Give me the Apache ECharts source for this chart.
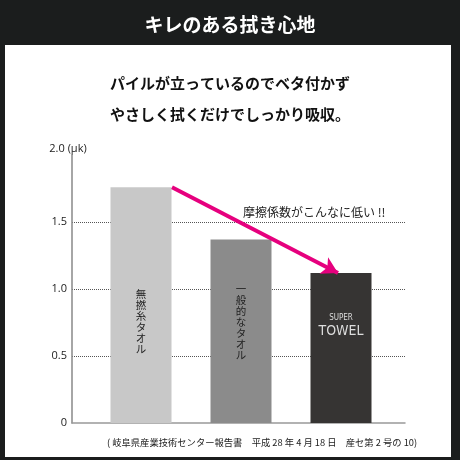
<!DOCTYPE html>
<html><head><meta charset="utf-8">
<script src="https://cdn.jsdelivr.net/npm/echarts@6/dist/echarts.min.js"></script>
<style>html,body{margin:0;padding:0;background:#1b1d1d}#c{width:460px;height:460px}</style>
</head><body><div id="c"></div>
<script>
const titleText = 'キレのある拭き心地';
const subtitleLines = ['パイルが立っているのでベタ付かず', 'やさしく拭くだけでしっかり吸収。'];
const categories = ['無撚糸タオル', '一般的なタオル', 'SUPER TOWEL'];
const values = [1.76, 1.37, 1.12];
const barColors = ['#c8c8c8', '#8b8b8b', '#363433'];
const yTicks = [0, 0.5, 1.0, 1.5, 2.0];
const yUnit = '2.0 (μk)';
const note = '摩擦係数がこんなに低い !!';
const source = '( 岐阜県産業技術センター報告書　平成 28 年 4 月 18 日　産セ第 2 号の 10)';

const JP = '"Noto Sans CJK JP", "Noto Sans", sans-serif';
const chart = echarts.init(document.getElementById('c'));
const labelDist = [68, 62, 84];
chart.setOption({
  backgroundColor: '#1b1d1d',
  animation: false,
  title: [
    { text: titleText, left: 'center', top: 10, textStyle: { color: '#fff', fontSize: 19, fontWeight: 'bold', fontFamily: JP } },
    { text: subtitleLines.join('\n'), left: 'center', top: 63, textStyle: { color: '#111', fontSize: 15, fontWeight: 'bold', fontFamily: JP, lineHeight: 31 } }
  ],
  graphic: [
    { type: 'rect', shape: { x: 5, y: 45, width: 446, height: 412 }, style: { fill: '#fff' }, z: -10, silent: true },
    { type: 'text', left: 243, top: 206, style: { text: note, fill: '#222', font: '12px ' + JP } },
    { type: 'text', left: 107, top: 438, style: { text: source, fill: '#222', font: '9.3px ' + JP } }
  ],
  grid: { left: 72, right: 55, top: 155, bottom: 37 },
  xAxis: {
    type: 'value', min: 0.31, max: 3.64,
    axisLine: { show: true, onZero: false, lineStyle: { color: '#999', width: 1.5 } },
    axisTick: { show: false }, axisLabel: { show: false }, splitLine: { show: false }
  },
  yAxis: {
    type: 'value', min: 0, max: 2.0, interval: 0.5,
    name: yUnit, nameLocation: 'end', nameGap: 1,
    nameTextStyle: { color: '#222', fontSize: 11, fontFamily: '"Open Sans", sans-serif', align: 'center', padding: [0, 8, 0, 0] },
    axisLine: { show: true, onZero: false, lineStyle: { color: '#888', width: 1.5 } },
    axisTick: { show: false },
    axisLabel: { color: '#222', fontSize: 11, margin: 5, fontFamily: '"Open Sans", sans-serif',
      formatter: v => v === 0 ? '0' : (v >= 2 ? '' : v.toFixed(1)) },
    splitLine: { show: true, showMinLine: false, showMaxLine: false, lineStyle: { type: 'dotted', color: '#555', width: 1 } }
  },
  series: [{
    type: 'bar', barWidth: 61,
    data: values.map((v, i) => ({
      value: [i + 1, v],
      itemStyle: { color: barColors[i] },
      label: i < 2 ? {
        show: true, position: 'insideBottom', distance: labelDist[i],
        formatter: categories[i].split('').join('\n'),
        color: '#222', fontSize: 10.5, lineHeight: 11, fontFamily: JP
      } : {
        show: true, position: 'insideBottom', distance: labelDist[i],
        formatter: '{a|SUPER}\n{b|TOWEL}',
        rich: {
          a: { color: '#ddd', fontSize: 8, lineHeight: 11, fontFamily: '"DejaVu Sans Condensed", sans-serif' },
          b: { color: '#ddd', fontSize: 14, lineHeight: 16, fontFamily: '"DejaVu Sans Condensed", sans-serif' }
        }
      }
    })),
    markLine: {
      silent: true, symbol: ['none', 'arrow'], symbolSize: [14, 16],
      label: { show: false },
      lineStyle: { color: '#e6007e', width: 4, type: 'solid' },
      data: [[{ coord: [1.31, values[0]] }, { coord: [2.97, values[2]] }]]
    }
  }]
});
</script></body></html>
